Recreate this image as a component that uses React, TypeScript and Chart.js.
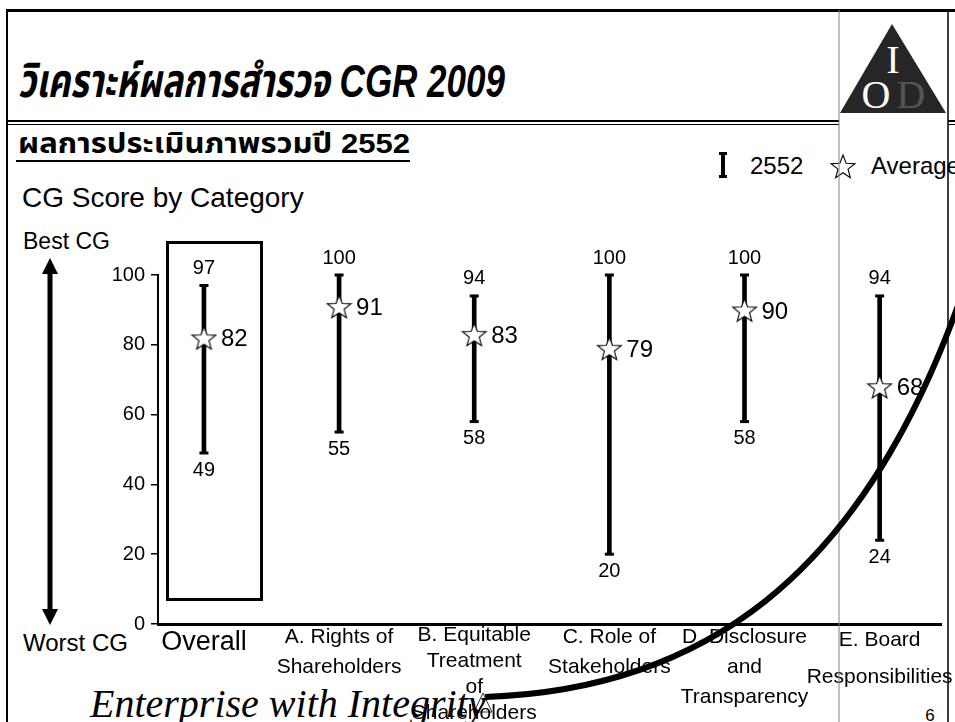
import React, { useEffect, useRef } from "react";
import { Chart, registerables } from "chart.js";

Chart.register(...registerables);

// ---- data ----
const CATEGORIES = [
  "Overall",
  "A. Rights of Shareholders",
  "B. Equitable Treatment of Shareholders",
  "C. Role of Stakeholders",
  "D. Disclosure and Transparency",
  "E. Board Responsibilities",
];
const CATEGORY_LINES: (string | string[])[] = [
  "Overall",
  ["A. Rights of", "Shareholders"],
  ["B. Equitable", "Treatment", "of", "Shareholders"],
  ["C. Role of", "Stakeholders"],
  ["D. Disclosure", "and", "Transparency"],
  ["E. Board", "Responsibilities"],
];
const MAX_SCORE = [97, 100, 94, 100, 100, 94];
const MIN_SCORE = [49, 55, 58, 20, 58, 24];
const AVG_SCORE = [82, 91, 83, 79, 90, 68];
const Y_TICKS = [0, 20, 40, 60, 80, 100];

const FONT = "'Liberation Sans', Arial, 'Noto Sans', sans-serif";
const THAI_FONT = "'Liberation Sans', 'Noto Sans Thai', 'Noto Sans', sans-serif";
const SERIF = "'Liberation Serif', 'Times New Roman', serif";

// per-category label line heights (px)
const LABEL_LINE_HEIGHT = [42, 30, 26, 30, 30, 37];

function starPoints(cx: number, cy: number, R: number, ratio = 0.42) {
  const pts: string[] = [];
  for (let k = 0; k < 10; k++) {
    const ang = -Math.PI / 2 + (k * Math.PI) / 5;
    const rad = k % 2 === 0 ? R : R * ratio;
    pts.push(`${(cx + rad * Math.cos(ang)).toFixed(2)},${(cy + rad * Math.sin(ang)).toFixed(2)}`);
  }
  return pts.join(" ");
}

function makeStar(size: number) {
  const c = document.createElement("canvas");
  c.width = size;
  c.height = size;
  const g = c.getContext("2d")!;
  const R = size / 2 - 1;
  const cx = size / 2;
  const cy = size / 2 + 1.2;
  g.beginPath();
  for (let k = 0; k < 10; k++) {
    const ang = -Math.PI / 2 + (k * Math.PI) / 5;
    const rad = k % 2 === 0 ? R : R * 0.42;
    g.lineTo(cx + rad * Math.cos(ang), cy + rad * Math.sin(ang));
  }
  g.closePath();
  g.fillStyle = "#fff";
  g.fill();
  g.lineWidth = 1.1;
  g.strokeStyle = "#000";
  g.stroke();
  return c;
}

const valueLabels = {
  id: "valueLabels",
  afterDatasetsDraw(chart: any) {
    const { ctx } = chart;
    const x = chart.scales.x;
    const y = chart.scales.y;
    ctx.save();
    ctx.fillStyle = "#000";
    ctx.textBaseline = "middle";
    CATEGORIES.forEach((_, i) => {
      const px = x.getPixelForValue(i);
      ctx.font = `20px ${FONT}`;
      ctx.textAlign = "center";
      ctx.fillText(String(MAX_SCORE[i]), px, y.getPixelForValue(MAX_SCORE[i]) - 17);
      ctx.fillText(String(MIN_SCORE[i]), px, y.getPixelForValue(MIN_SCORE[i]) + 17);
      ctx.font = `24px ${FONT}`;
      ctx.textAlign = "left";
      ctx.fillText(String(AVG_SCORE[i]), px + 17, y.getPixelForValue(AVG_SCORE[i]) + 2);
    });
    ctx.restore();
  },
};

export default function App() {
  const ref = useRef<HTMLCanvasElement | null>(null);

  useEffect(() => {
    if (!ref.current) return;
    const star = makeStar(27);
    const chart = new Chart(ref.current, {
      type: "bar",
      data: {
        datasets: [
          {
            type: "scatter",
            label: "Average",
            data: CATEGORIES.map((_, i) => ({ x: i, y: AVG_SCORE[i] })),
            pointStyle: star as any,
            pointRadius: 13,
            order: 0,
            clip: false as any,
          },
          {
            type: "scatter",
            label: "caps",
            data: CATEGORIES.flatMap((_, i) => [
              { x: i, y: MAX_SCORE[i] },
              { x: i, y: MIN_SCORE[i] },
            ]),
            pointStyle: "line",
            pointRadius: 4.5,
            borderColor: "#000",
            borderWidth: 3,
            order: 1,
            clip: false as any,
          },
          {
            type: "bar",
            label: "2552",
            data: CATEGORIES.map((_, i) => ({ x: i, y: [MIN_SCORE[i], MAX_SCORE[i]] })) as any,
            backgroundColor: "#000",
            borderWidth: 0,
            barThickness: 4,
            order: 2,
            clip: false as any,
          },
        ] as any,
      },
      options: {
        responsive: false,
        animation: false,
        events: [],
        layout: { padding: { left: 0, top: 275, right: 12, bottom: 0 } },
        plugins: { legend: { display: false }, tooltip: { enabled: false } },
        scales: {
          x: {
            type: "linear",
            offset: false,
            min: -0.34,
            max: 5.454,
            afterBuildTicks: (s: any) => {
              s.ticks = CATEGORIES.map((_, i) => ({ value: i }));
            },
            afterFit: (s: any) => {
              s.height = 98;
            },
            grid: { display: false, drawTicks: false, offset: false },
            border: { display: true, color: "#000", width: 3 },
            ticks: {
              autoSkip: false,
              maxRotation: 0,
              minRotation: 0,
              padding: -2,
              color: "#000",
              font: (c: any) =>
                c.index === 0
                  ? { family: FONT, size: 27, lineHeight: `${LABEL_LINE_HEIGHT[0]}px` }
                  : { family: FONT, size: 21, lineHeight: `${LABEL_LINE_HEIGHT[c.index] ?? 30}px` },
              callback: (v: any) => CATEGORY_LINES[v as number] as any,
            },
          },
          y: {
            type: "linear",
            min: 0,
            max: 100,
            afterBuildTicks: (s: any) => {
              s.ticks = Y_TICKS.map((v) => ({ value: v }));
            },
            afterFit: (s: any) => {
              s.width = 158;
            },
            grid: { drawOnChartArea: false, drawTicks: true, tickLength: 7, color: "#000", lineWidth: 1.5 },
            border: { display: true, color: "#000", width: 2 },
            ticks: { padding: 6, color: "#000", font: { family: FONT, size: 20 } },
          },
        },
      } as any,
      plugins: [valueLabels],
    });
    return () => chart.destroy();
  }, []);

  const W = 955;
  const H = 722;

  return (
    <div
      style={{
        position: "fixed",
        left: 0,
        top: 0,
        width: W,
        height: H,
        overflow: "hidden",
        background: "#fff",
      }}
    >
      <svg width={W} height={H} style={{ position: "absolute", left: 0, top: 0 }}>
        {/* frame */}
        <line x1={6} y1={10.5} x2={W} y2={10.5} stroke="#000" strokeWidth={3} />
        <line x1={7} y1={10} x2={7} y2={H} stroke="#000" strokeWidth={2} />
        <line x1={7} y1={121} x2={839} y2={121} stroke="#000" strokeWidth={2} />
        <line x1={7} y1={124.5} x2={839} y2={124.5} stroke="#000" strokeWidth={1} />
        <line x1={948} y1={121} x2={W} y2={121} stroke="#000" strokeWidth={2} />
        <line x1={948} y1={124.5} x2={W} y2={124.5} stroke="#000" strokeWidth={1} />

        {/* title */}
        <text
          x={18}
          y={97}
          fontFamily={THAI_FONT}
          fontSize={47}
          fontWeight="bold"
          fontStyle="italic"
          textLength={487}
          lengthAdjust="spacingAndGlyphs"
        >
          วิเคราะห์ผลการสำรวจ CGR 2009
        </text>

        {/* logo */}
        <polygon points="892,24 840,113 946,113" fill="#262626" />
        <text x={893} y={73} fontFamily={SERIF} fontSize={40} fill="#fff" textAnchor="middle">
          I
        </text>
        <text x={876} y={108} fontFamily={SERIF} fontSize={40} fill="#fff" textAnchor="middle">
          O
        </text>
        <text x={911} y={108} fontFamily={SERIF} fontSize={40} fill="#555" textAnchor="middle">
          D
        </text>

        {/* heading */}
        <text
          x={18}
          y={153}
          fontFamily={THAI_FONT}
          fontSize={28}
          fontWeight="bold"
          textLength={392}
          lengthAdjust="spacingAndGlyphs"
        >
          ผลการประเมินภาพรวมปี 2552
        </text>
        <line x1={16} y1={161} x2={410} y2={161} stroke="#000" strokeWidth={2} />

        <text x={22} y={207} fontFamily={FONT} fontSize={28}>
          CG Score by Category
        </text>

        {/* legend */}
        <line x1={723} y1={153} x2={723} y2={177} stroke="#000" strokeWidth={4} />
        <line x1={719} y1={153.5} x2={727} y2={153.5} stroke="#000" strokeWidth={3} />
        <line x1={719} y1={176.5} x2={727} y2={176.5} stroke="#000" strokeWidth={3} />
        <text x={750} y={174} fontFamily={FONT} fontSize={24}>
          2552
        </text>
        <polygon points={starPoints(843, 167.5, 12.5)} fill="#fff" stroke="#000" strokeWidth={1.1} />
        <text x={871} y={174} fontFamily={FONT} fontSize={24}>
          Average
        </text>

        {/* best / worst arrow */}
        <text x={23} y={249} fontFamily={FONT} fontSize={23}>
          Best CG
        </text>
        <line x1={50} y1={272} x2={50} y2={611} stroke="#000" strokeWidth={5} />
        <polygon points="50,258 42,274 58,274" fill="#000" />
        <polygon points="50,625 42,609 58,609" fill="#000" />
        <text x={23} y={651} fontFamily={FONT} fontSize={24}>
          Worst CG
        </text>

        {/* overall box */}
        <rect x={167.5} y={242.5} width={94} height={357} fill="none" stroke="#000" strokeWidth={3} />

        {/* footer */}
        <text x={90} y={717} fontFamily={SERIF} fontStyle="italic" fontSize={40}>
          Enterprise with Integrity
        </text>
        <text x={930} y={721} fontFamily={FONT} fontSize={17} textAnchor="middle">
          6
        </text>
      </svg>

      <canvas
        ref={ref}
        width={W}
        height={H}
        style={{ position: "absolute", left: 0, top: 0, width: W, height: H }}
      />

      <svg width={W} height={H} style={{ position: "absolute", left: 0, top: 0, pointerEvents: "none" }}>
        <line x1={839} y1={10} x2={839} y2={H} stroke="#808080" strokeWidth={1} />
        <line x1={948} y1={10} x2={948} y2={H} stroke="#000" strokeWidth={1.5} />
        <path d="M485 697 C 700 690, 860 580, 960 300" fill="none" stroke="#000" strokeWidth={6} />
        <polygon points="483,693 474,712 492,712" fill="none" stroke="#000" strokeWidth={0.8} />
      </svg>
    </div>
  );
}
